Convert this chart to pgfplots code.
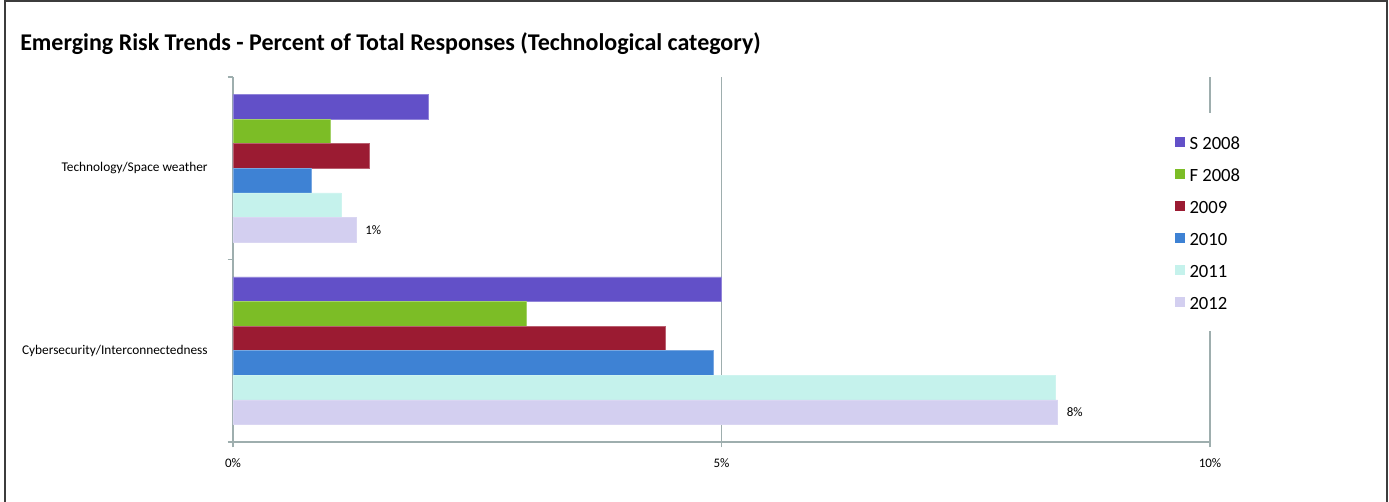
\documentclass[border=0pt]{standalone}
\usepackage{fontspec}
\setmainfont{Carlito}
\usepackage{pgfplots}
\pgfplotsset{compat=1.18}
\definecolor{cS}{RGB}{98,80,200}
\definecolor{cF}{RGB}{124,189,38}
\definecolor{cA}{RGB}{155,27,50}
\definecolor{cB}{RGB}{62,130,212}
\definecolor{cC}{RGB}{197,242,236}
\definecolor{cD}{RGB}{211,207,240}
\definecolor{axgray}{RGB}{158,174,174}
\definecolor{framegray}{RGB}{60,60,60}
\begin{document}
\begin{tikzpicture}
\path[use as bounding box] (0,0) rectangle (1041.75pt,376.5pt);
\draw[framegray, line width=1.5pt] (3.4pt,0pt) -- (3.4pt,375.8pt) -- (1040.4pt,375.8pt) -- (1040.4pt,0pt);
\node[anchor=base west, inner sep=0pt, font=\bfseries\fontsize{18}{20}\selectfont] at (15pt,338.25pt) {Emerging Risk Trends - Percent of Total Responses (Technological category)};
\begin{axis}[
  at={(174.75pt,45pt)}, anchor=south west,
  scale only axis, width=732.75pt, height=273.75pt,
  xbar, bar width=18.45pt,
  xmin=0, xmax=10, ymin=-0.5, ymax=1.5,
  axis x line*=bottom, axis y line*=left,
  axis line style={axgray, line width=1.2pt},
  xtick={0,5,10}, xticklabels={0\%,5\%,10\%},
  ytick={0,1}, yticklabels={Cybersecurity/Interconnectedness,Technology/Space weather},
  major tick length=0pt,
  minor xtick={0,5,10}, minor ytick={-0.5,0.5,1.5},
  minor tick length=4pt, tick align=outside,
  tick style={axgray, line width=1.2pt},
  xmajorgrids, grid style={axgray, line width=1.2pt},
  xticklabel style={font=\fontsize{9.75}{11}\selectfont, yshift=-9pt},
  yticklabel style={font=\fontsize{10}{12}\selectfont, xshift=-15.5pt},
  legend style={at={(0.961,0.9014)}, anchor=north west, fill=white, draw=none,
    font=\fontsize{14}{16}\selectfont, row sep=10pt, column sep=2.5pt, inner xsep=2pt, inner ysep=14.5pt,
    nodes={inner sep=1pt, text height=12pt, text depth=0pt}},
  legend cell align=left,
  every axis plot post/.append style={legend image code/.code={\draw[##1,draw=none] (0pt,-3.5pt) rectangle (7.5pt,4pt);}},
]
\addplot[fill=cS, draw=cS!70!white, bar shift=46.125pt] coordinates {(5.0,0) (2.0,1)};
\addplot[fill=cF, draw=cF!70!white, bar shift=27.675pt] coordinates {(3.0,0) (1.0,1)};
\addplot[fill=cA, draw=cA!70!white, bar shift=9.225pt] coordinates {(4.42,0) (1.39,1)};
\addplot[fill=cB, draw=cB!70!white, bar shift=-9.225pt] coordinates {(4.92,0) (0.80,1)};
\addplot[fill=cC, draw=cC!85!white, bar shift=-27.675pt] coordinates {(8.42,0) (1.105,1)};
\addplot[fill=cD, draw=cD!85!white, bar shift=-46.125pt, point meta=x,
  nodes near coords={\pgfmathprintnumber[fixed,precision=0,assume math mode=true]{\pgfplotspointmeta}\%},
  nodes near coords style={anchor=west, inner sep=0pt, xshift=6.75pt, text=black, font=\fontsize{9.75}{11}\selectfont}]
  coordinates {(8.44,0) (1.26,1)};
\legend{S 2008,F 2008,2009,2010,2011,2012}
\end{axis}
\end{tikzpicture}
\end{document}
